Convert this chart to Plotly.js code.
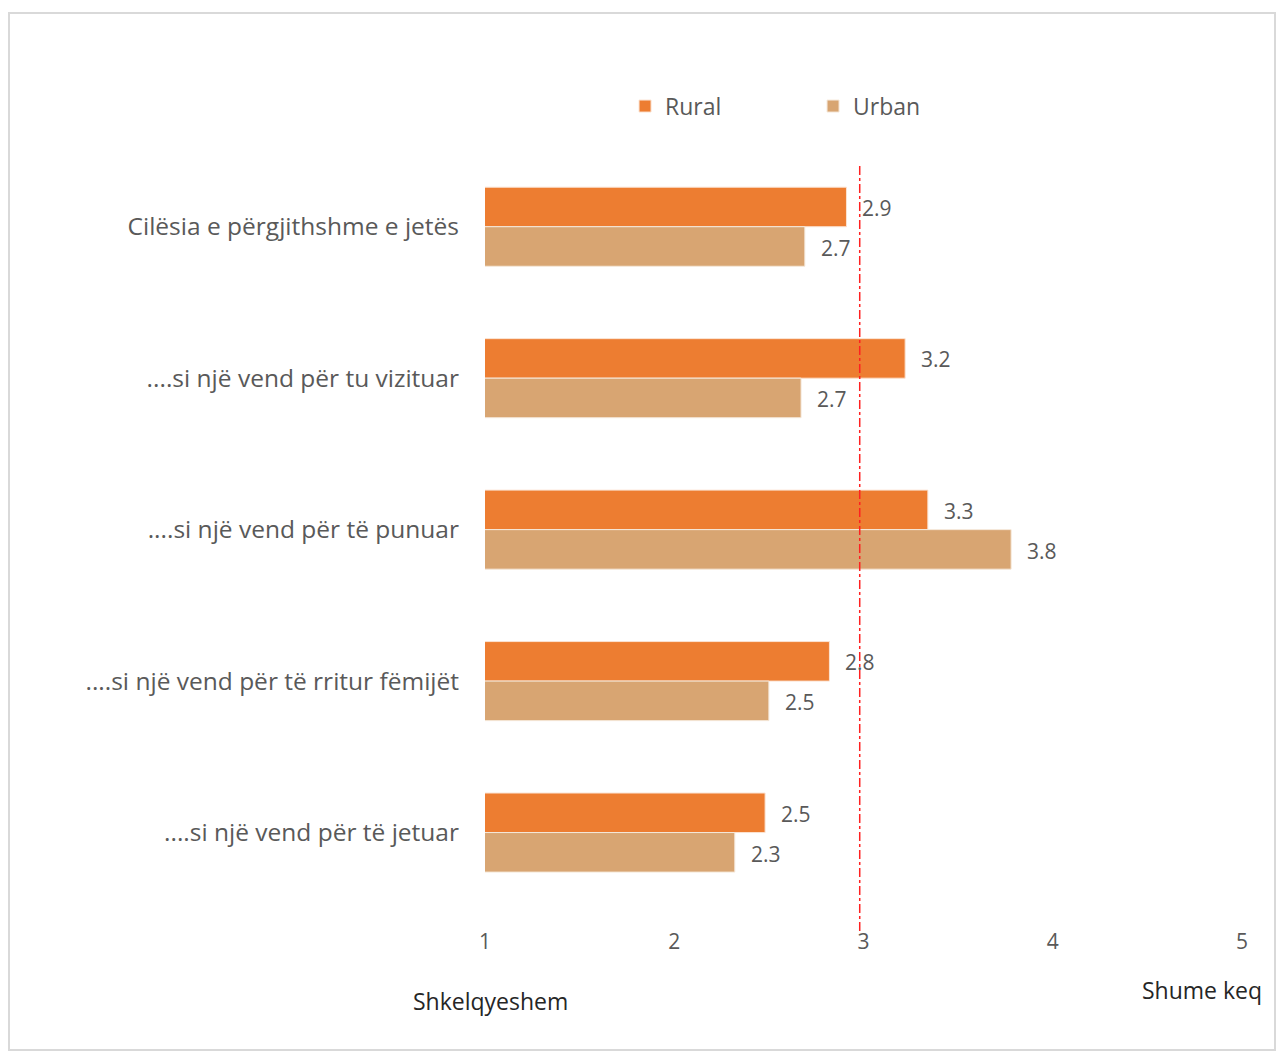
<!DOCTYPE html>
<html>
<head>
<meta charset="utf-8">
<script src="https://cdn.plot.ly/plotly-3.0.1.min.js"></script>
<style>
  html, body { margin: 0; padding: 0; background: #ffffff; }
  #chart { width: 1281px; height: 1055px; }
  #frame { position: absolute; left: 8px; top: 12px; width: 1268px; height: 1039px;
           border: 2px solid #d9d9d9; pointer-events: none; box-sizing: border-box; }
</style>
</head>
<body>
<div id="chart"></div>
<div id="frame"></div>
<script>
// ---- data ----
const categories = [
  "Cilësia e përgjithshme e jetës",
  "....si një vend për tu vizituar",
  "....si një vend për të punuar",
  "....si një vend për të rritur fëmijët",
  "....si një vend për të jetuar"
];
const rural = [2.91, 3.22, 3.34, 2.82, 2.48];
const urban = [2.69, 2.67, 3.78, 2.50, 2.32];
const seriesNames = ["Rural", "Urban"];
const referenceValue = [2.98];
const xTicks = [1, 2, 3, 4, 5];
const axisEndLabels = ["Shkelqyeshem", "Shume keq"];

// ---- styles ----
const colRural = "#ED7D31";
const colUrban = "#D8A572";
const font = "'Open Sans', 'Noto Sans', sans-serif";

const traces = [
  { type: "bar", orientation: "h", name: seriesNames[0], y: categories, x: rural,
    marker: { color: colRural, line: { color: "#fbe3d2", width: 1 } }, hoverinfo: "x" },
  { type: "bar", orientation: "h", name: seriesNames[1], y: categories, x: urban,
    marker: { color: colUrban, line: { color: "#f5e8da", width: 1 } }, hoverinfo: "x" }
];

// value labels as annotations anchored to data coordinates
const annotations = [];
function addLabels(vals, shiftY) {
  vals.forEach((v, i) => {
    annotations.push({
      x: v, y: categories[i], xref: "x", yref: "y",
      text: v.toFixed(1), showarrow: false, xanchor: "left", yanchor: "middle",
      xshift: 14, yshift: shiftY,
      font: { family: font, size: 21, color: "#595959" }
    });
  });
}
addLabels(rural, 19);
addLabels(urban, -21);

annotations.push({
  x: 0.007, y: -0.09, xref: "paper", yref: "paper", xanchor: "center", yanchor: "middle",
  text: axisEndLabels[0], showarrow: false, font: { family: font, size: 23, color: "#262626" }
});
annotations.push({
  x: 0.947, y: -0.076, xref: "paper", yref: "paper", xanchor: "center", yanchor: "middle",
  text: axisEndLabels[1], showarrow: false, font: { family: font, size: 23, color: "#262626" }
});

const layout = {
  width: 1281, height: 1055,
  margin: { l: 485, r: 39, t: 151, b: 123.5 },
  paper_bgcolor: "#ffffff", plot_bgcolor: "#ffffff",
  barmode: "group", bargap: 0.478, bargroupgap: 0,
  font: { family: font, color: "#595959" },
  xaxis: {
    range: [1, 5], tickvals: xTicks, ticktext: xTicks.map(String),
    showgrid: false, zeroline: false, showline: false, ticks: "",
    ticklabelstandoff: -4,
    tickfont: { family: font, size: 21, color: "#595959" },
    fixedrange: true
  },
  yaxis: {
    type: "category", range: [4.65, -0.5],
    showgrid: false, zeroline: false, showline: false, ticks: "",
    ticklabelstandoff: 25,
    tickfont: { family: font, size: 24.5, color: "#595959" },
    fixedrange: true
  },
  legend: {
    orientation: "h", x: 0.185, xanchor: "left", y: 1.03, yanchor: "bottom",
    xref: "paper", yref: "paper",
    font: { family: font, size: 23, color: "#595959" },
    entrywidth: 143, traceorder: "normal"
  },
  shapes: [{
    type: "line", xref: "x", yref: "paper",
    x0: referenceValue[0], x1: referenceValue[0], y0: 0, y1: 0.982,
    line: { color: "#ff2020", width: 1.5, dash: "dashdot" }
  }],
  annotations: annotations,
  showlegend: true
};

Plotly.newPlot("chart", traces, layout, { displayModeBar: false, staticPlot: true });
</script>
</body>
</html>
